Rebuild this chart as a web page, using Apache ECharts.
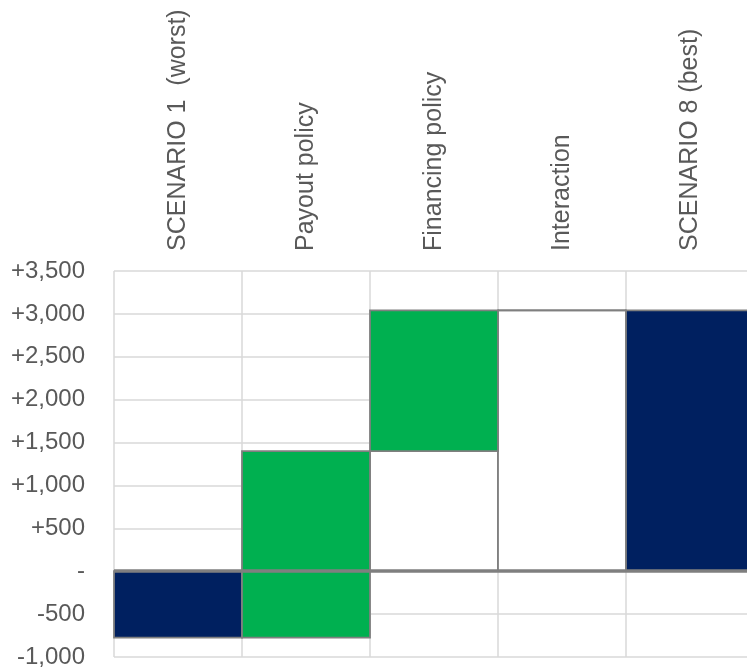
<!DOCTYPE html>
<html>
<head>
<meta charset="utf-8">
<script src="https://cdn.jsdelivr.net/npm/echarts@6/dist/echarts.min.js"></script>
<style>
  html, body { margin: 0; padding: 0; background: #fff; overflow: hidden; }
  /* canvas is a little wider than the page so the last column runs off the right edge */
  #chart { width: 754px; height: 670px; }
</style>
</head>
<body>
<div id="chart"></div>
<script>
// Waterfall: scenario totals at both ends, policy effects in between
const categories = ['SCENARIO 1  (worst)', 'Payout policy', 'Financing policy', 'Interaction', 'SCENARIO 8 (best)'];
const kinds = ['total', 'change', 'change', 'change', 'total'];
const values = [-775, 2175, 1640, 0, 3040];
const yTicks = { min: -1000, max: 3500, interval: 500 };

// Running levels for each column
const baseBoxes = [];   // white pillar under a floating change
const bars = [];        // coloured block: [index, low, high]
let level = 0;
values.forEach((v, i) => {
  if (kinds[i] === 'total') {
    bars.push([i, Math.min(0, v), Math.max(0, v)]);
    level = v;
  } else {
    const start = level, end = level + v;
    if (start > 0) baseBoxes.push([i, 0, start]);
    bars.push([i, Math.min(start, end), Math.max(start, end)]);
    level = end;
  }
});

const fillFor = { total: '#002060', change: '#00B050' };
const edge = '#7F7F7F';

function rectRenderer(fillFn) {
  return function (params, api) {
    const idx = api.value(0);
    const top = api.coord([idx, api.value(2)]);
    const bottom = api.coord([idx, api.value(1)]);
    const w = api.size([1, 0])[0];
    return {
      type: 'rect',
      shape: { x: top[0] - w / 2, y: top[1], width: w, height: bottom[1] - top[1] },
      style: { fill: fillFn(idx), stroke: edge, lineWidth: 1.8 }
    };
  };
}

function fmt(v) {
  if (v === 0) return '-';
  const s = Math.abs(v).toLocaleString('en-US');
  return (v > 0 ? '+' : '-') + s;
}

const chart = echarts.init(document.getElementById('chart'), null, { renderer: 'canvas' });
chart.setOption({
  animation: false,
  backgroundColor: '#ffffff',
  textStyle: { fontFamily: 'Liberation Sans, Arial, sans-serif' },
  grid: { left: 114, top: 271, right: 0, bottom: 13, containLabel: false },
  xAxis: {
    type: 'category',
    position: 'top',
    data: categories,
    boundaryGap: true,
    axisLine: { show: false },
    axisTick: { show: false },
    splitLine: { show: true, lineStyle: { color: '#D9D9D9', width: 1.5 } },
    axisLabel: {
      rotate: 90, interval: 0, margin: 20,
      color: '#595959', fontSize: 25,
      fontFamily: 'Liberation Sans, Arial, sans-serif'
    }
  },
  yAxis: {
    type: 'value',
    min: yTicks.min, max: yTicks.max, interval: yTicks.interval,
    axisLine: { show: false },
    axisTick: { show: false },
    splitLine: { show: true, lineStyle: { color: '#D9D9D9', width: 1.5 } },
    axisLabel: {
      formatter: fmt, margin: 29,
      color: '#595959', fontSize: 24,
      fontFamily: 'Liberation Sans, Arial, sans-serif'
    }
  },
  series: [
    {
      type: 'custom',
      name: 'base',
      renderItem: rectRenderer(() => '#FFFFFF'),
      encode: { x: 0, y: [1, 2] },
      data: baseBoxes,
      z: 2
    },
    {
      type: 'custom',
      name: 'bars',
      renderItem: rectRenderer(i => fillFor[kinds[i]]),
      encode: { x: 0, y: [1, 2] },
      data: bars,
      z: 3
    },
    {
      type: 'line',
      name: 'zero',
      data: [],
      z: 5,
      markLine: {
        silent: true,
        symbol: ['none', 'none'],
        label: { show: false },
        lineStyle: { color: edge, width: 3.5, type: 'solid' },
        data: [{ yAxis: 0 }]
      }
    }
  ]
});
</script>
</body>
</html>
